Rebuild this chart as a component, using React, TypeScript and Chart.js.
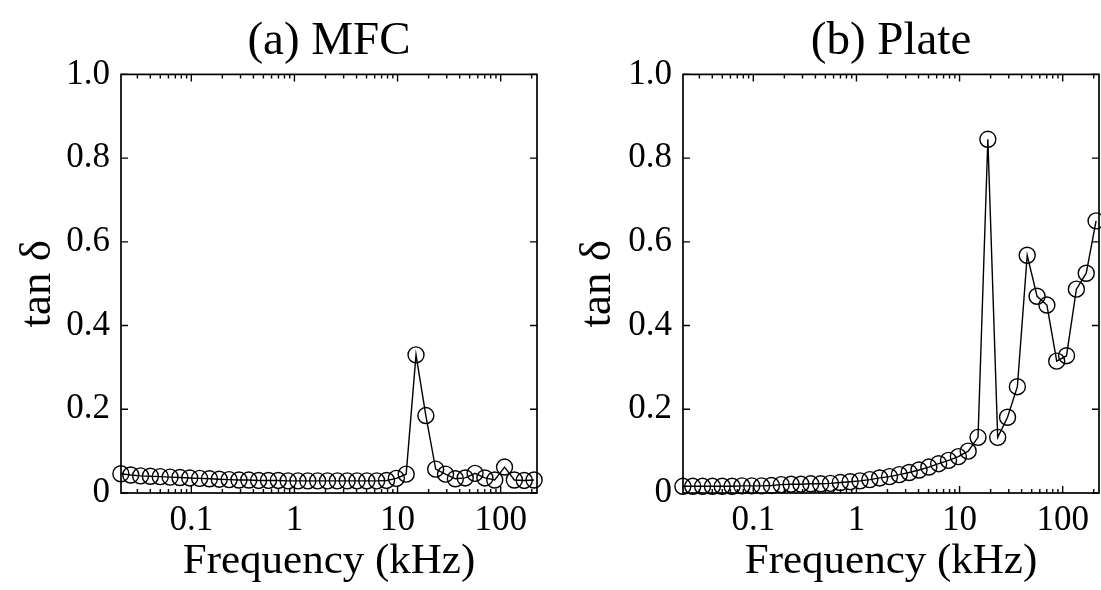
import React, { useEffect, useRef } from 'react';
import { Chart, registerables } from 'chart.js';

Chart.register(...registerables);

// Measurement frequencies (kHz), log-spaced
const frequencyKHz = [
  0.02075, 0.02585, 0.0322, 0.0401, 0.04995, 0.06223, 0.07751, 0.09656, 0.1203, 0.1498,
  0.1866, 0.2325, 0.2896, 0.3607, 0.4494, 0.5598, 0.6973, 0.8685, 1.082, 1.348,
  1.679, 2.091, 2.605, 3.245, 4.043, 5.035, 6.272, 7.814, 9.732, 12.12,
  15.1, 18.81, 23.43, 29.19, 36.36, 45.29, 56.42, 70.28, 87.54, 109.0,
  135.8, 169.2, 210.8,
];

// (a) MFC loss tangent
const tanDeltaMFC = [
  0.046, 0.043, 0.041, 0.04, 0.039, 0.038, 0.037, 0.036, 0.035, 0.034,
  0.033, 0.032, 0.031, 0.031, 0.03, 0.03, 0.03, 0.029, 0.029, 0.029,
  0.029, 0.029, 0.029, 0.029, 0.029, 0.029, 0.029, 0.03, 0.035, 0.045,
  0.33, 0.185, 0.057, 0.045, 0.034, 0.036, 0.047, 0.036, 0.031, 0.062,
  0.031, 0.03, 0.031,
];

// (b) Plate loss tangent
const tanDeltaPlate = [
  0.016, 0.016, 0.016, 0.016, 0.016, 0.016, 0.017, 0.017, 0.017, 0.018,
  0.02, 0.021, 0.021, 0.022, 0.022, 0.023, 0.025, 0.027, 0.029, 0.032,
  0.036, 0.039, 0.044, 0.049, 0.055, 0.062, 0.07, 0.078, 0.087, 0.1,
  0.133, 0.845, 0.133, 0.181, 0.254, 0.568, 0.47, 0.449, 0.315, 0.328,
  0.487, 0.525, 0.65,
];

const xTickValues = [0.1, 1, 10, 100];
const yTickValues = [0, 0.2, 0.4, 0.6, 0.8, 1.0];
const panelTitles = ['(a) MFC', '(b) Plate'];
const xAxisTitle = 'Frequency (kHz)';
const yAxisTitle = 'tan δ';

const SERIF = "'Liberation Serif', 'Times New Roman', serif";

const framePlugin = {
  id: 'frameTicks',
  beforeDatasetsDraw(chart: any) {
    const { ctx, chartArea: a, scales } = chart;
    const xs = scales.x;
    const ys = scales.y;
    ctx.save();
    ctx.strokeStyle = '#000';
    ctx.lineWidth = 1.7;
    ctx.strokeRect(a.left, a.top, a.right - a.left, a.bottom - a.top);
    ctx.lineWidth = 1.4;
    ctx.beginPath();
    const lo = Math.floor(Math.log10(xs.min));
    const hi = Math.ceil(Math.log10(xs.max));
    for (let e = lo; e <= hi; e++) {
      for (let m = 1; m <= 9; m++) {
        const v = m * Math.pow(10, e);
        if (v < xs.min || v > xs.max) continue;
        const px = xs.getPixelForValue(v);
        const len = m === 1 ? 7 : 4;
        ctx.moveTo(px, a.bottom);
        ctx.lineTo(px, a.bottom - len);
        ctx.moveTo(px, a.top);
        ctx.lineTo(px, a.top + len);
      }
    }
    for (const v of yTickValues) {
      const py = ys.getPixelForValue(v);
      ctx.moveTo(a.left, py);
      ctx.lineTo(a.left + 7, py);
      ctx.moveTo(a.right, py);
      ctx.lineTo(a.right - 7, py);
    }
    ctx.stroke();
    ctx.restore();
  },
};

type PanelProps = {
  title: string;
  values: number[];
  left: number;
  width: number;
  yAxisWidth: number;
  padRight: number;
};

function Panel({ title, values, left, width, yAxisWidth, padRight }: PanelProps) {
  const ref = useRef<HTMLCanvasElement | null>(null);

  useEffect(() => {
    if (!ref.current) return;
    const chart = new Chart(ref.current, {
      type: 'line',
      data: {
        datasets: [
          {
            data: frequencyKHz.map((f, i) => ({ x: f, y: values[i] })),
            borderColor: '#000',
            borderWidth: 1.4,
            pointRadius: 8,
            pointBorderWidth: 1.4,
            pointBorderColor: '#000',
            pointBackgroundColor: 'rgba(0,0,0,0)',
            tension: 0,
            clip: false as any,
          },
        ],
      },
      options: {
        responsive: false,
        animation: false,
        devicePixelRatio: 1,
        layout: { autoPadding: false, padding: { top: 0, left: 0, bottom: 0, right: padRight } },
        plugins: {
          legend: { display: false },
          tooltip: { enabled: false },
          title: {
            display: true,
            text: title,
            fullSize: false,
            color: '#000',
            font: { family: SERIF, size: 47, weight: 'normal' as any },
            padding: { top: 13, bottom: 5 },
          },
        },
        scales: {
          x: {
            type: 'logarithmic',
            min: 0.0208,
            max: 225,
            afterBuildTicks: (s: any) => {
              s.ticks = xTickValues.map((v) => ({ value: v }));
            },
            afterFit: (s: any) => {
              s.height = 97;
            },
            grid: { display: false, drawTicks: false },
            border: { display: false },
            ticks: {
              color: '#000',
              font: { family: SERIF, size: 35 },
              padding: 7,
              maxRotation: 0,
              autoSkip: false,
              callback: (v: any) => String(v),
            },
            title: {
              display: true,
              text: xAxisTitle,
              color: '#000',
              font: { family: SERIF, size: 43 },
              padding: { top: 0, bottom: 2 },
            },
          },
          y: {
            type: 'linear',
            min: 0,
            max: 1,
            afterBuildTicks: (s: any) => {
              s.ticks = yTickValues.map((v) => ({ value: v }));
            },
            afterFit: (s: any) => {
              s.width = yAxisWidth;
            },
            grid: { display: false, drawTicks: false },
            border: { display: false },
            ticks: {
              color: '#000',
              font: { family: SERIF, size: 35 },
              padding: 11,
              callback: (v: any) => (Number(v) === 0 ? '0' : Number(v).toFixed(1)),
            },
            title: {
              display: true,
              text: yAxisTitle,
              color: '#000',
              font: { family: SERIF, size: 45 },
              padding: { top: 11, bottom: 0 },
            },
          },
        },
      },
      plugins: [framePlugin],
    } as any);
    return () => chart.destroy();
  }, [title, values, yAxisWidth, padRight]);

  return (
    <canvas
      ref={ref}
      width={width}
      height={590}
      style={{ position: 'absolute', left, top: 0, width, height: 590, display: 'block' }}
    />
  );
}

export default function App() {
  return (
    <div
      style={{
        position: 'absolute',
        left: 0,
        top: 0,
        width: 1101,
        height: 590,
        background: '#fff',
        overflow: 'hidden',
      }}
    >
      <Panel title={panelTitles[0]} values={tanDeltaMFC} left={0} width={560} yAxisWidth={121} padRight={23} />
      <Panel title={panelTitles[1]} values={tanDeltaPlate} left={560} width={541} yAxisWidth={123} padRight={2} />
    </div>
  );
}
